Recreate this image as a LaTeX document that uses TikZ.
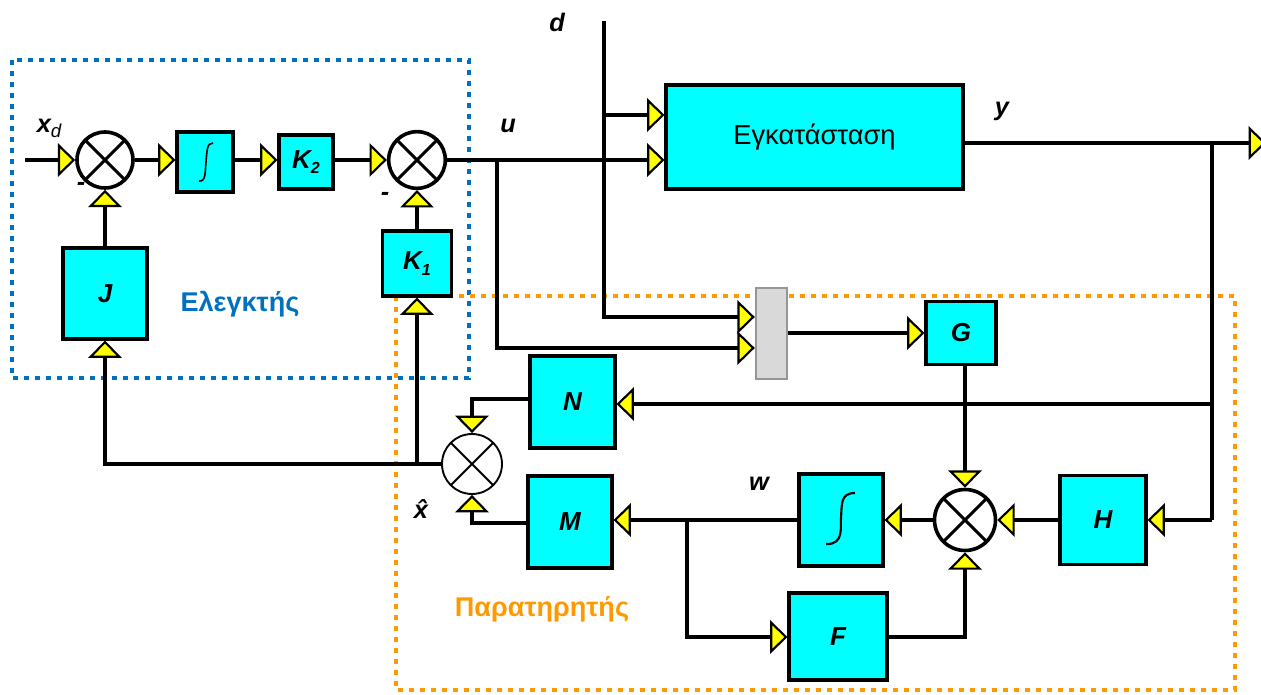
\documentclass[tikz,border=0pt]{standalone}
\usepackage{fontspec}
\setmainfont{Liberation Sans}
\usetikzlibrary{arrows.meta}
\definecolor{cyanb}{RGB}{0,255,255}
\definecolor{yelb}{RGB}{255,255,0}
\definecolor{blued}{RGB}{0,112,192}
\definecolor{orad}{RGB}{255,153,0}
\definecolor{grayf}{RGB}{217,217,217}
\definecolor{grayb}{RGB}{150,150,150}
\begin{document}
\begin{tikzpicture}[x=0.75pt,y=-0.75pt,
  blk/.style={draw=black, fill=cyanb, line width=2.3pt, inner sep=0pt, font=\fontsize{19.5}{22}\selectfont\bfseries\itshape},
  sumn/.style={circle, draw=black, fill=white, line width=2.7pt, inner sep=0pt,
    path picture={\draw[line width=2.2pt] (path picture bounding box.north west) -- (path picture bounding box.south east) (path picture bounding box.north east) -- (path picture bounding box.south west);}},
  thinsum/.style={circle, draw=black, fill=white, line width=1.4pt, inner sep=0pt,
    path picture={\draw[line width=1.4pt] (path picture bounding box.north west) -- (path picture bounding box.south east) (path picture bounding box.north east) -- (path picture bounding box.south west);}},
  ln/.style={line width=2.6pt},
  arr/.style={ln, -{Triangle[width=25pt,length=13pt,fill=yelb,line width=1.6pt]}},
  lbl/.style={inner sep=0pt, font=\fontsize{19}{22}\selectfont\bfseries\itshape},
  dotbox/.style={line width=3.6pt, dash pattern=on 3.9pt off 4.35pt}
]
\useasboundingbox (0,0) rectangle (1261,695);
% group frames
\draw[dotbox, draw=blued] (12,60) rectangle (469,378);
\draw[dotbox, draw=orad] (396,296) rectangle (1235,690);
% nodes
\node[sumn, minimum size=42pt] (S1) at (105,160) {};
\node[blk, minimum width=42pt, minimum height=45pt] (I1) at (205,162) {};
\node[blk, minimum width=40.5pt, minimum height=40.5pt] (K2) at (306,162) {K\raisebox{-0.22em}{\fontsize{12}{12}\selectfont 2}};
\node[sumn, minimum size=42.5pt] (S2) at (417,160) {};
\node[blk, minimum width=51.75pt, minimum height=48.75pt] (K1) at (417,263.5) {K\raisebox{-0.22em}{\fontsize{12}{12}\selectfont 1}};
\node[blk, minimum width=63pt, minimum height=68.25pt] (J) at (105,293.5) {J};
\node[blk, minimum width=222.75pt, minimum height=78pt, font=\fontsize{20.5}{24}\selectfont] (P) at (814.5,137) {Εγκατάσταση};
\node[draw=grayb, fill=grayf, line width=1.8pt, inner sep=0pt, minimum width=23.25pt, minimum height=68.25pt] (Gr) at (771.5,333.5) {};
\node[blk, minimum width=52.5pt, minimum height=47.25pt] (G) at (961,333) {G};
\node[blk, minimum width=63.75pt, minimum height=69pt] (N) at (572.5,402) {N};
\node[blk, minimum width=63pt, minimum height=69pt] (M) at (570,522) {M};
\node[thinsum, minimum size=45pt] (S3) at (472,464) {};
\node[blk, minimum width=63pt, minimum height=69pt] (I2) at (841,520) {};
\node[sumn, minimum size=45.75pt] (S4) at (965,520) {};
\node[blk, minimum width=73.5pt, minimum height=65.25pt] (F) at (838,636.5) {F};
\node[blk, minimum width=64.5pt, minimum height=66.75pt] (H) at (1103,520) {H};
% integral symbols
\draw[line width=1.2pt] (199,181) .. controls (206,182) and (205,172) .. (206,162) .. controls (207,150) and (207,143) .. (213,143);
\draw[line width=1.6pt] (826,544) .. controls (845,545) and (840,525) .. (841,518) .. controls (842,505) and (840,493) .. (855,493);
% coordinates
\coordinate (xin) at (25,160);
\coordinate (dtop) at (604,21);
\coordinate (dP) at (604,115);
\coordinate (dG) at (604,317);
\coordinate (uB) at (497,160);
\coordinate (uG) at (497,348);
\coordinate (yB) at (1212,143);
\coordinate (yN) at (1212,404);
\coordinate (yH) at (1212,520);
\coordinate (yend) at (1266,143);
\coordinate (Nt) at (472,399);
\coordinate (Mb) at (472,523);
\coordinate (wB) at (687,520);
\coordinate (wF) at (687,637);
% connectors
\draw[arr] (xin) -- (S1.west);
\draw[arr] (S1.east) -- (I1.west |- S1.east);
\draw[arr] (I1.east |- S1.east) -- (K2.west |- S1.east);
\draw[arr] (K2.east |- S1.east) -- (S2.west);
\draw[arr] (J.north) -- (S1.south);
\draw[arr] (K1.north) -- (S2.south);
\draw[arr] (S2.east) -- (P.west |- S2.east);
\draw[arr] (dtop) -- (dG) -- (Gr.west |- dG);
\draw[arr] (dP) -- (P.west |- dP);
\draw[arr] (uB) -- (uG) -- (Gr.west |- uG);
\draw[arr] (Gr.east |- G.west) -- (G.west);
\draw[arr] (P.east |- yB) -- (yend);
\draw[ln] (yB) -- (yH);
\draw[arr] (yH) -- (H.east |- yH);
\draw[arr] (yN) -- (N.east |- yN);
\draw[arr] (H.west |- S4.east) -- (S4.east);
\draw[arr] (S4.west) -- (I2.east |- S4.west);
\draw[arr] (I2.west |- S4.west) -- (M.east |- S4.west);
\draw[arr] (wB) -- (wF) -- (F.west |- wF);
\draw[arr] (F.east |- wF) -| (S4.south);
\draw[arr] (S4.north |- G.south) -- (S4.north);
\draw[arr] (N.west |- Nt) -- (Nt) -- (S3.north);
\draw[arr] (M.west |- Mb) -- (Mb) -- (S3.south);
\draw[arr] (S3.west) -| (J.south);
\draw[arr] (S3.west -| K1.south) -- (K1.south);
% labels
\node[lbl] (lxd) at (49,128) {x\raisebox{-0.2em}{\fontsize{14}{14}\selectfont\mdseries d}};
\node[lbl] (lm1) at (81,186) {-};
\node[lbl] (lm2) at (385,196) {-};
\node[lbl] (lu) at (508,126) {u};
\node[lbl] (ld) at (557,22) {d};
\node[lbl] (ly) at (1002,111) {y};
\node[lbl] (lw) at (759,484) {w};
\node[lbl] (lxh) at (421,509) {\^x};
\node[inner sep=0pt, text=blued, font=\fontsize{20.3}{24}\selectfont\bfseries] (lE) at (240,304) {Ελεγκτής};
\node[inner sep=0pt, text=orad, font=\fontsize{20.3}{24}\selectfont\bfseries] (lO) at (542,609) {Παρατηρητής};
\end{tikzpicture}
\end{document}
